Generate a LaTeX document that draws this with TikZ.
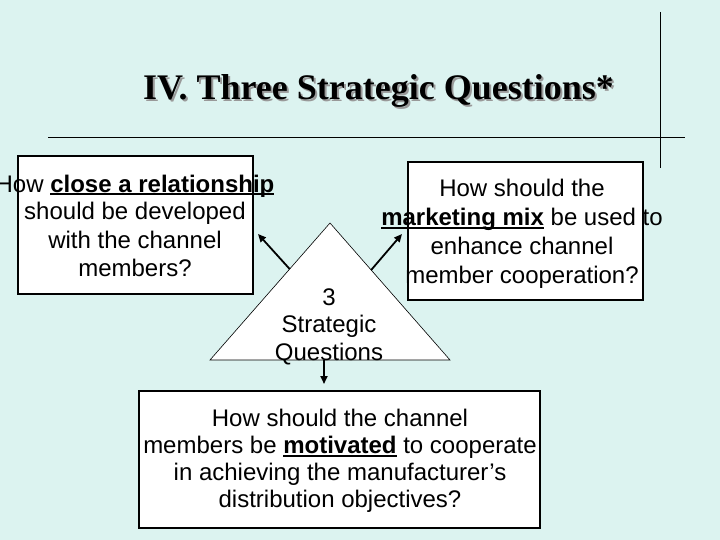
\documentclass[tikz,border=0pt]{standalone}
\usepackage{fontspec}
\setmainfont{Liberation Sans}
\newfontfamily\titlefont{Liberation Serif}
\usetikzlibrary{arrows.meta,calc}
\definecolor{bgcol}{RGB}{220,243,240}
\newsavebox{\ulqbox}
\newcommand{\ulq}[1]{\sbox{\ulqbox}{#1}\rlap{\rule[-3pt]{\wd\ulqbox}{1.6pt}}\usebox{\ulqbox}}
\tikzset{
 qbox/.style={draw=black, line width=1.2pt, fill=white, inner sep=0pt},
 qtext/.style={align=center, inner sep=0pt},
 ptr/.style={-{Triangle[length=8pt,width=7pt]}, line width=1.8pt},
 rulestyle/.style={line width=0.9pt},
 titlestyle/.style={font=\titlefont\bfseries\fontsize{36}{42}\selectfont, anchor=base, inner sep=0pt}
}
\begin{document}
\begin{tikzpicture}[x=1pt,y=-1pt]
\fill[bgcol] (0,0) rectangle (720,540);
\useasboundingbox (0,0) rectangle (720,540);
% rules
\coordinate (hl) at (48,137); \coordinate (hr) at (685,137);
\draw[rulestyle] (hl) -- (hr);
\coordinate (vt) at (660,12); \coordinate (vb) at (660,168);
\draw[rulestyle] (vt) -- (vb);
% title
\node[titlestyle, text=black!40] (titleshadow) at (380.5,102) {IV. Three Strategic Questions*};
\node[titlestyle] (title) at (378.5,100) {IV. Three Strategic Questions*};
% left box
\node[qbox, minimum width=235pt, minimum height=138pt] (lbox) at (135.5,225) {};
\node[qtext, anchor=base, font=\fontsize{24}{28}\selectfont] (ltext) at (135,276)
  {How \ulq{\textbf{close a relationship}}\\ should be developed\\ with the channel\\ members?};
% right box
\node[qbox, minimum width=235pt, minimum height=138pt] (rbox) at (525.5,231) {};
\node[qtext, anchor=base, font=\fontsize{24}{28.7}\selectfont] (rtext) at (522,283)
  {How should the\\ \ulq{\textbf{marketing mix}} be used to\\ enhance channel\\ member cooperation?};
% triangle
\coordinate (tA) at (330,223);
\coordinate (tL) at (210,360);
\coordinate (tR) at (450,360);
\draw[fill=white, line width=0.6pt] (tA) -- (tL) -- (tR) -- cycle;
\node[qtext, anchor=base, font=\fontsize{24}{27.5}\selectfont] (ttext) at (329,360)
  {3\\ Strategic\\ Questions};
% bottom box
\node[qbox, minimum width=401pt, minimum height=137pt] (bbox) at (339.5,459.5) {};
\node[qtext, anchor=base, font=\fontsize{24}{26.7}\selectfont] (btext) at (340,507)
  {How should the channel\\ members be \ulq{\textbf{motivated}} to cooperate\\ in achieving the manufacturer’s\\ distribution objectives?};
% arrows
\coordinate (aLs) at ($(tA)!0.336!(tL)$);
\coordinate (aLe) at (258,234);
\coordinate (aRs) at ($(tA)!0.343!(tR)$);
\coordinate (aRe) at (402,234);
\coordinate (aDs) at (324,360);
\coordinate (aDe) at (324,384);
\draw[ptr] (aLs) -- (aLe);
\draw[ptr] (aRs) -- (aRe);
\draw[ptr] (aDs) -- (aDe);
\end{tikzpicture}
\end{document}
